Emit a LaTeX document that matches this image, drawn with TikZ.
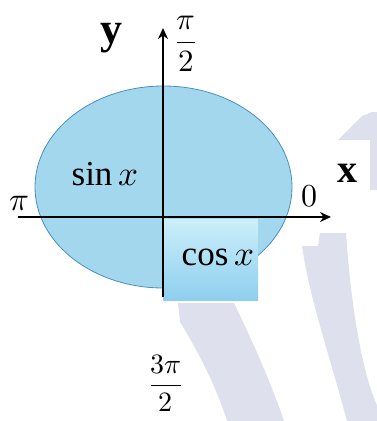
\documentclass[tikz,border=0pt]{standalone}
\usepackage{amsmath}
\usepackage{fontspec}
\usepackage{unicode-math}
\setmainfont{Liberation Serif}
\setmathfont{Latin Modern Math}
\usetikzlibrary{arrows.meta,positioning}
\definecolor{ellfill}{HTML}{A3D7EE}
\definecolor{ellline}{HTML}{4A8FBF}
\definecolor{boxtop}{HTML}{CCEFFA}
\definecolor{boxbot}{HTML}{8ECFEE}
\definecolor{ghost}{HTML}{DFE0EE}

\begin{document}
\begin{tikzpicture}[x=1pt,y=-1pt,
    axis/.style={line width=2.4pt,-{Stealth[length=11pt,width=10pt]}},
    lbl/.style={inner sep=0pt,font=\fontsize{35}{40}\selectfont}]
    \useasboundingbox (0,0) rectangle (377,421);
    % faint shapes behind
    \fill[ghost] (178,303) -- (234,303) .. controls (252,340) and (270,380) .. (284,421)
        -- (227,421) .. controls (214,380) and (194,345) .. (180,322) -- cycle;
    \fill[ghost] (302,246) -- (318,246) -- (320,233) -- (346,233)
        .. controls (352,320) and (365,380) .. (377,405) -- (377,421) -- (347,421)
        .. controls (328,350) and (310,300) .. cycle;
    \fill[ghost] (338,140) -- (362,116) -- (372,112) -- (377,112) -- (377,190)
        -- (370,190) -- (370,140) -- cycle;
    % disc and box
    \filldraw[fill=ellfill,draw=ellline,line width=0.8pt] (163.5,187) ellipse [x radius=128.5,y radius=101];
    \shade[top color=boxtop,bottom color=boxbot] (163,219) rectangle (258,300);
    % axes
    \coordinate (o) at (163,217);
    \coordinate (ybot) at (163,297);
    \coordinate (ytop) at (163,28);
    \coordinate (xleft) at (18,217);
    \coordinate (xright) at (331,217);
    \draw[axis] (ybot) -- (ytop);
    \draw[axis] (xleft) -- (xright);
    % labels
    \node[lbl,font=\bfseries\fontsize{44}{48}\selectfont] (ylab) at (111,38) {y};
    \node[lbl,font=\fontsize{31}{36}\selectfont] (top) at (186,44) {$\dfrac{\pi}{2}$};
    \node[lbl,font=\bfseries\fontsize{40}{44}\selectfont] (xlab) at (347,173) {x};
    \node[lbl,font=\fontsize{33}{36}\selectfont] (left) at (19,204) {$\pi$};
    \node[lbl,font=\fontsize{32}{36}\selectfont] (zero) at (309,196) {$0$};
    \node[lbl] (sin) at (105,174) {$\sin x$};
    \node[lbl] (cos) at (218,257) {$\cos x$};
    \node[lbl,font=\fontsize{28}{32}\selectfont] (low) at (166,383) {$\dfrac{3\pi}{2}$};
\end{tikzpicture}
\end{document}
